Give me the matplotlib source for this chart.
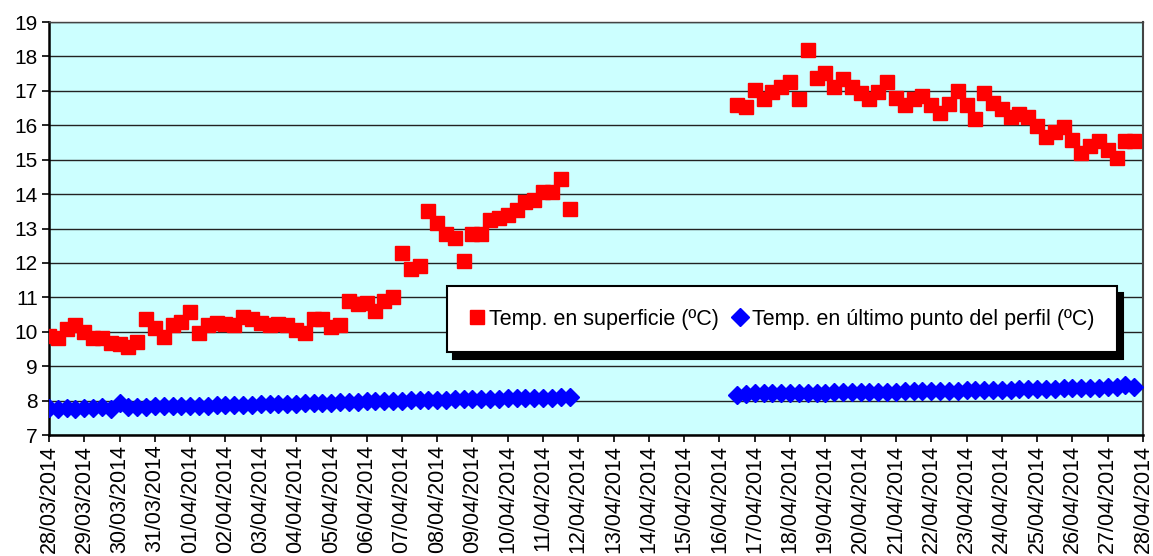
import matplotlib
matplotlib.use("Agg")
import matplotlib.pyplot as plt
import matplotlib.dates as mdates
import pandas as pd

plt.rcParams['font.family'] = ['Liberation Sans', 'DejaVu Sans']

# ---- data (readings every 6 h) ----
seg1_start = "2014-03-28 00:00"
seg2_start = "2014-04-16 12:00"

surf1 = [9.89, 9.81, 10.07, 10.20, 10.00, 9.81, 9.81, 9.68,
         9.65, 9.57, 9.71, 10.36, 10.10, 9.84, 10.20, 10.29,
         10.58, 9.96, 10.20, 10.25, 10.23, 10.20, 10.42, 10.36,
         10.25, 10.20, 10.22, 10.20, 10.05, 9.96, 10.36, 10.36,
         10.13, 10.20, 10.90, 10.81, 10.83, 10.61, 10.88, 11.02,
         12.30, 11.82, 11.90, 13.52, 13.17, 12.84, 12.72, 12.07,
         12.84, 12.84, 13.25, 13.30, 13.40, 13.54, 13.78, 13.83,
         14.07, 14.07, 14.43, 13.56]

surf2 = [16.59, 16.54, 17.03, 16.77, 16.98, 17.12, 17.25, 16.77,
         18.19, 17.37, 17.51, 17.10, 17.35, 17.12, 16.93, 16.76,
         16.98, 17.25, 16.80, 16.59, 16.77, 16.84, 16.58, 16.35,
         16.61, 17.00, 16.58, 16.19, 16.95, 16.66, 16.47, 16.25,
         16.32, 16.25, 15.98, 15.67, 15.81, 15.95, 15.56, 15.18,
         15.40, 15.54, 15.28, 15.06, 15.54, 15.54]

deep1 = [7.78, 7.77, 7.78, 7.77, 7.78, 7.79, 7.80, 7.77,
         7.93, 7.82, 7.81, 7.82, 7.83, 7.83, 7.84, 7.85,
         7.85, 7.84, 7.85, 7.86, 7.87, 7.86, 7.88, 7.88,
         7.89, 7.89, 7.90, 7.91, 7.91, 7.92, 7.93, 7.93,
         7.94, 7.95, 7.96, 7.97, 7.98, 7.98, 7.99, 8.00,
         8.00, 8.01, 8.01, 8.02, 8.02, 8.03, 8.04, 8.04,
         8.05, 8.05, 8.06, 8.06, 8.07, 8.07, 8.08, 8.08,
         8.09, 8.09, 8.10, 8.10]

deep2 = [8.16, 8.20, 8.21, 8.21, 8.22, 8.22, 8.22, 8.22,
         8.23, 8.23, 8.23, 8.24, 8.24, 8.24, 8.25, 8.25,
         8.26, 8.26, 8.26, 8.27, 8.27, 8.28, 8.28, 8.28,
         8.29, 8.29, 8.30, 8.30, 8.31, 8.31, 8.32, 8.32,
         8.33, 8.33, 8.34, 8.35, 8.35, 8.36, 8.36, 8.37,
         8.37, 8.38, 8.39, 8.40, 8.45, 8.40]

label_surf = "Temp. en superficie (ºC)"
label_deep = "Temp. en último punto del perfil (ºC)"

t1 = pd.date_range(seg1_start, periods=len(surf1), freq="6h")
t2 = pd.date_range(seg2_start, periods=len(surf2), freq="6h")

fig = plt.figure(figsize=(11.53, 5.56), dpi=100)
ax = fig.add_axes([0.0425, 0.2176, 0.9488, 0.7428])
ax.set_facecolor("#CCFFFF")

red = "#FF0000"
blue = "#0000FF"
ax.plot(t1, surf1, ls="none", marker="s", ms=10.5, color=red, mec=red, zorder=3, label=label_surf)
ax.plot(t2, surf2, ls="none", marker="s", ms=10.5, color=red, mec=red, zorder=3)
ax.plot(t1, deep1, ls="none", marker="D", ms=9.2, color=blue, mec=blue, zorder=3, label=label_deep)
ax.plot(t2, deep2, ls="none", marker="D", ms=9.2, color=blue, mec=blue, zorder=3)

ax.set_ylim(7, 19)
ax.set_yticks(range(7, 20))
ax.set_xlim(pd.Timestamp("2014-03-28"), pd.Timestamp("2014-04-28"))
ax.xaxis.set_major_locator(mdates.DayLocator())
ax.xaxis.set_major_formatter(mdates.DateFormatter("%d/%m/%Y"))
ax.grid(axis="y", color="#222222", lw=1.0, zorder=1)
ax.set_axisbelow(True)

ax.tick_params(axis="x", labelrotation=90, labelsize=15.5, length=5, width=1.2, direction="out", pad=2)
ax.tick_params(axis="y", labelsize=15, length=5, width=1.2, direction="out", pad=3)
for lab in ax.get_xticklabels():
    lab.set_verticalalignment("top")

for side in ["left", "bottom"]:
    ax.spines[side].set_linewidth(1.8)
    ax.spines[side].set_color("black")
ax.spines["right"].set_linewidth(1.5)
ax.spines["right"].set_color("#444444")
ax.spines["top"].set_linewidth(1.0)
ax.spines["top"].set_color("#444444")

leg = ax.legend(loc="center", bbox_to_anchor=(0.364, 0.199, 0.612, 0.162), mode="expand",
                borderaxespad=0, ncol=2, numpoints=1, handlelength=0.7, handletextpad=0.2,
                columnspacing=1.5, fontsize=15.5, frameon=True, fancybox=False, framealpha=1,
                borderpad=1.05,
                shadow={"color": "black", "alpha": 1, "ox": 4.5, "oy": -4.5})
leg.get_frame().set_edgecolor("black")
leg.get_frame().set_linewidth(1.5)
leg.set_zorder(5)

fig.savefig("out.png", dpi=100)
